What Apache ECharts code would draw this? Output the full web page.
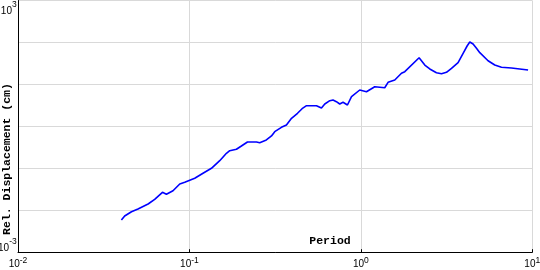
<!DOCTYPE html>
<html><head><meta charset="utf-8">
<script src="https://cdn.jsdelivr.net/npm/echarts@6/dist/echarts.min.js"></script>
<style>html,body{margin:0;padding:0;background:#fff}#c{width:540px;height:270px}</style>
</head><body><div id="c"></div>
<script>
const periods = [0.0401,0.0419,0.0459,0.0501,0.0574,0.0627,0.0696,0.0734,0.0802,0.0878,
  0.0939,0.1074,0.120,0.1344,0.1502,0.1644,0.1718,0.188,0.201,0.218,
  0.246,0.257,0.281,0.301,0.3145,0.344,0.368,0.394,0.427,0.454,
  0.482,0.551,0.589,0.616,0.659,0.688,0.720,0.753,0.787,0.835,
  0.882,0.985,1.078,1.205,1.378,1.441,1.577,1.725,1.804,2.186,
  2.36,2.523,2.76,2.953,3.157,3.378,3.69,3.948,4.166,4.318,
  4.514,4.725,4.94,5.52,6.04,6.61,7.56,8.45,9.45];
const displacements = [0.00586,0.00729,0.00923,0.0107,0.0141,0.0182,0.0268,0.0240,0.0292,0.0423,
  0.0464,0.0578,0.0760,0.100,0.152,0.228,0.263,0.284,0.340,0.424,
  0.424,0.408,0.473,0.589,0.746,0.949,1.077,1.556,2.047,2.634,
  3.106,3.106,2.738,3.41,4.088,4.246,3.87,3.41,3.745,3.228,
  5.09,7.355,6.70,8.81,8.34,11.2,12.7,18.4,20.1,43.3,
  29.0,23.3,19.0,18.0,19.4,24.2,32.9,55.1,82.3,102.5,
  91.8,72.5,57.0,36.7,29.0,25.6,24.6,23.3,22.0];
const xTickExponents = [-2,-1,0,1];
const yTickExponents = [3,-3];
const xAxisTitle = 'Period';
const yAxisTitle = 'Rel. Displacement (cm)';

const F = '"Liberation Sans", Arial, sans-serif';
const M = '"Liberation Mono", "DejaVu Sans Mono", monospace';
const data = periods.map((p, i) => [p, displacements[i]]);
const exp = v => Math.round(Math.log10(v));

const chart = echarts.init(document.getElementById('c'), null, {renderer: 'canvas'});
chart.setOption({
  animation: false,
  backgroundColor: '#fff',
  grid: {left: 18, right: 7.7, top: 0.5, bottom: 17.8, containLabel: false, outerBoundsMode: 'none'},
  xAxis: {
    type: 'log', logBase: 10, min: 0.01, max: 10,
    axisLine: {show: true, lineStyle: {color: '#000', width: 1}},
    axisTick: {show: true, inside: true, length: 3, lineStyle: {color: '#000'}},
    splitLine: {show: true, lineStyle: {color: '#d9d9d9', width: 1}},
    axisLabel: {
      margin: 3, verticalAlign: 'top', showMinLabel: true, showMaxLabel: true, hideOverlap: false,
      formatter: v => { const e = exp(v); return xTickExponents.includes(e) ? '{b|10}{s|' + e + '}' : ''; },
      rich: {
        b: {fontFamily: F, fontSize: 10, lineHeight: 10, padding: [4,0,0,0], verticalAlign: 'top', color: '#000'},
        s: {fontFamily: F, fontSize: 8.5, lineHeight: 8, padding: [0.5,0,0,0], verticalAlign: 'top', color: '#000'}
      }
    }
  },
  yAxis: {
    type: 'log', logBase: 10, min: 0.001, max: 1000,
    axisLine: {show: true, lineStyle: {color: '#000', width: 1}},
    axisTick: {show: false},
    splitLine: {show: true, lineStyle: {color: '#d9d9d9', width: 1}},
    axisLabel: {
      margin: 1, align: 'right', verticalAlign: 'middle', showMinLabel: true, showMaxLabel: true, hideOverlap: false,
      formatter: v => {
        const e = exp(v);
        if (!yTickExponents.includes(e)) return '';
        return e > 0 ? '{bt|10}{st|' + e + '}{z| }' : '{bb|10}{sb|' + e + '}{z| }';
      },
      rich: {
        z: {fontFamily: F, fontSize: 1, lineHeight: 30},
        bt: {fontFamily: F, fontSize: 10, lineHeight: 10, padding: [21,0,0,0], verticalAlign: 'top', color: '#000'},
        st: {fontFamily: F, fontSize: 8.5, lineHeight: 8, padding: [14.5,0,0,0], verticalAlign: 'top', color: '#000'},
        bb: {fontFamily: F, fontSize: 10, lineHeight: 10, padding: [6.3,0,0,0], verticalAlign: 'top', color: '#000'},
        sb: {fontFamily: F, fontSize: 8.5, lineHeight: 8, padding: [0.3,0,0,0], verticalAlign: 'top', color: '#000'}
      }
    }
  },
  graphic: [
    {type: 'text', x: 330, y: 241.5, style: {text: xAxisTitle, font: 'bold 11.5px ' + M, fill: '#000', align: 'center', verticalAlign: 'middle'}},
    {type: 'text', x: 7.5, y: 159, rotation: Math.PI / 2, style: {text: yAxisTitle, font: 'bold 11.5px ' + M, fill: '#000', align: 'center', verticalAlign: 'middle'}}
  ],
  series: [{
    type: 'line', data: data, showSymbol: false, symbol: 'none', smooth: false,
    lineStyle: {color: '#0000ff', width: 1.6}
  }]
});
</script></body></html>
